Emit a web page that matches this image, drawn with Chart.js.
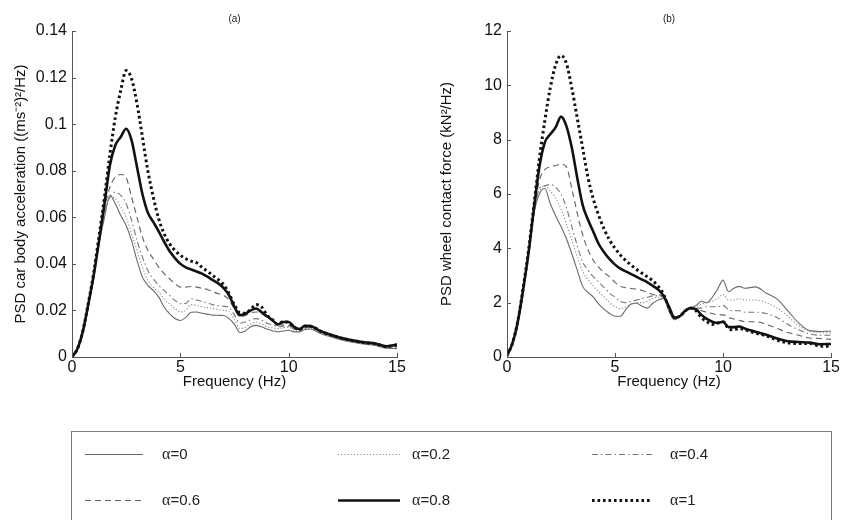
<!DOCTYPE html>
<html><head><meta charset="utf-8">
<script src="https://cdn.jsdelivr.net/npm/chart.js@4/dist/chart.umd.min.js"></script>
<style>
html,body{margin:0;padding:0;background:#fff;overflow:hidden;width:841px;height:520px;font-family:"Liberation Sans",Arial,sans-serif;}
#ca{position:absolute;left:0;top:0;}
#cb{position:absolute;left:420px;top:0;}
#leg{position:absolute;left:0;top:0;}
#legbox{position:absolute;left:71px;top:431px;width:761px;height:120px;border:1.5px solid #7a7a7a;box-sizing:border-box;}
.lt{position:absolute;font-size:15px;color:#222;transform:translateY(-50%);white-space:nowrap;}
.lt .g{font-family:"Liberation Serif","Times New Roman",serif;font-size:16px;}
</style></head><body>
<canvas id="ca" width="420" height="400"></canvas>
<canvas id="cb" width="421" height="400"></canvas>
<div id="legbox"></div>
<canvas id="leg" width="841" height="520"></canvas>
<div id="legtext"></div>
<script>
// ---------- data ----------
const freq = [0,0.25,0.5,0.75,1,1.25,1.5,1.75,2,2.25,2.5,2.75,3,3.25,3.5,3.75,4,4.25,4.5,4.75,5,5.25,5.5,5.75,6,6.25,6.5,6.75,7,7.25,7.5,7.75,8,8.25,8.5,8.75,9,9.25,9.5,9.75,10,10.25,10.5,10.75,11,11.5,12,12.5,13,13.5,14,14.5,15];
const alphaLabels = ['α=0','α=0.2','α=0.4','α=0.6','α=0.8','α=1'];
const xTicks = [0,5,10,15];
const accTicks = [0,0.02,0.04,0.06,0.08,0.1,0.12,0.14];
const forceTicks = [0,2,4,6,8,10,12];

// (a) PSD car body acceleration ((ms^-2)^2/Hz)
const accA0  = [0,0.0035,0.011,0.0225,0.035,0.049,0.060,0.0694,0.0658,0.0608,0.0565,0.050,0.0415,0.0343,0.0308,0.0286,0.0258,0.0215,0.0186,0.0165,0.0157,0.0170,0.0192,0.0193,0.0188,0.0184,0.0180,0.0179,0.0178,0.0165,0.0140,0.0105,0.0112,0.0130,0.0136,0.0130,0.0120,0.0113,0.0108,0.0112,0.0115,0.0108,0.0108,0.0118,0.0120,0.0100,0.0085,0.0072,0.0062,0.0055,0.0050,0.0038,0.0036];
const accA02 = [0,0.0035,0.011,0.0225,0.035,0.049,0.060,0.0690,0.068,0.0644,0.060,0.053,0.0458,0.0386,0.0329,0.030,0.0279,0.025,0.0229,0.0208,0.0193,0.020,0.0225,0.0222,0.0216,0.0212,0.0208,0.0204,0.0200,0.0195,0.0160,0.0122,0.0128,0.0142,0.0150,0.0142,0.0130,0.0125,0.0122,0.0125,0.0128,0.0115,0.0112,0.0122,0.0124,0.0104,0.0088,0.0074,0.0064,0.0057,0.0052,0.0040,0.0040];
const accA04 = [0,0.0035,0.011,0.0225,0.035,0.049,0.0615,0.0687,0.0708,0.0694,0.0658,0.0587,0.050,0.043,0.0372,0.0336,0.0308,0.0286,0.0265,0.0243,0.0229,0.0230,0.0250,0.0245,0.0238,0.0232,0.0225,0.0220,0.0218,0.0213,0.0180,0.0145,0.0150,0.0160,0.0165,0.0158,0.0145,0.0138,0.0130,0.0130,0.0130,0.0120,0.0115,0.0125,0.0127,0.0106,0.0090,0.0076,0.0066,0.0059,0.0054,0.0042,0.0043];
const accA06 = [0,0.0035,0.011,0.0225,0.035,0.0495,0.0637,0.073,0.0773,0.0784,0.077,0.0687,0.060,0.0515,0.0458,0.0422,0.0386,0.0358,0.0336,0.0315,0.030,0.0300,0.0303,0.0300,0.0295,0.0290,0.0280,0.0272,0.0265,0.0245,0.0205,0.0172,0.0178,0.0190,0.0193,0.0186,0.0170,0.0155,0.0140,0.0137,0.0136,0.0124,0.0118,0.0128,0.0130,0.0108,0.0092,0.0078,0.0068,0.0060,0.0055,0.0044,0.0047];
const accA08 = [0,0.0035,0.011,0.0225,0.035,0.050,0.0658,0.0823,0.0909,0.0945,0.098,0.093,0.0816,0.070,0.062,0.058,0.054,0.0495,0.0455,0.0425,0.040,0.0385,0.0376,0.0367,0.0358,0.0345,0.0330,0.0316,0.0296,0.0265,0.0215,0.0180,0.0186,0.0200,0.0208,0.0192,0.0175,0.0158,0.0140,0.0150,0.0150,0.0129,0.0120,0.0134,0.0133,0.0110,0.0094,0.0080,0.0071,0.0063,0.0058,0.0046,0.0053];
const accA1  = [0,0.0035,0.0112,0.023,0.036,0.052,0.0687,0.087,0.103,0.1145,0.123,0.1195,0.1088,0.0945,0.080,0.0687,0.0594,0.053,0.0487,0.0458,0.0437,0.0422,0.0412,0.0405,0.0385,0.0368,0.0350,0.0332,0.0310,0.0272,0.0222,0.0190,0.0188,0.0205,0.0225,0.0215,0.0180,0.0160,0.0140,0.0152,0.0148,0.0128,0.0118,0.0132,0.0132,0.0110,0.0093,0.0080,0.0070,0.0062,0.0057,0.0045,0.0052];

// (b) PSD wheel contact force (kN^2/Hz)
const forceA0  = [0.05,0.5,1.3,2.5,3.85,5.3,6.0,6.2,5.65,5.2,4.8,4.35,3.8,3.2,2.6,2.38,2.2,1.95,1.75,1.6,1.5,1.5,1.75,1.95,1.98,1.87,1.8,1.98,2.1,2.15,1.68,1.37,1.5,1.72,1.8,1.9,2.05,2.0,2.2,2.5,2.83,2.4,2.53,2.6,2.53,2.58,2.35,2.13,1.7,1.25,0.97,0.94,0.95];
const forceA02 = [0.05,0.5,1.3,2.5,3.85,5.3,6.1,6.3,6.1,5.85,5.45,4.9,4.3,3.7,3.15,2.85,2.6,2.4,2.2,2.0,1.85,1.78,1.85,1.95,2.0,2.0,2.05,2.15,2.2,2.2,1.7,1.38,1.5,1.7,1.8,1.85,1.95,2.0,2.05,2.15,2.3,2.1,2.1,2.15,2.1,2.1,2.0,1.8,1.5,1.15,0.95,0.9,0.88];
const forceA04 = [0.05,0.5,1.3,2.5,3.85,5.3,6.2,6.3,6.35,6.25,6.0,5.5,4.8,4.1,3.5,3.2,2.95,2.75,2.55,2.35,2.2,2.05,2.0,2.05,2.1,2.15,2.2,2.25,2.25,2.2,1.72,1.4,1.5,1.7,1.8,1.8,1.8,1.85,1.85,1.85,1.9,1.75,1.7,1.7,1.65,1.65,1.6,1.45,1.2,1.0,0.85,0.8,0.8];
const forceA06 = [0.05,0.5,1.3,2.5,3.85,5.35,6.5,6.9,7.0,7.05,7.1,7.0,6.2,5.3,4.5,3.95,3.55,3.3,3.1,2.95,2.75,2.6,2.55,2.52,2.5,2.45,2.38,2.3,2.28,2.25,1.75,1.42,1.5,1.72,1.82,1.75,1.7,1.65,1.6,1.55,1.55,1.45,1.4,1.35,1.3,1.3,1.2,1.05,0.9,0.8,0.7,0.68,0.65];
const forceA08 = [0.05,0.5,1.3,2.5,3.85,5.5,7.0,7.9,8.2,8.45,8.85,8.5,7.7,6.6,5.6,5.05,4.6,4.15,3.85,3.6,3.4,3.25,3.15,3.05,2.95,2.85,2.75,2.62,2.48,2.25,1.85,1.45,1.5,1.7,1.8,1.75,1.55,1.4,1.3,1.25,1.3,1.1,1.1,1.12,1.05,0.93,0.82,0.68,0.58,0.55,0.53,0.47,0.48];
const forceA1  = [0.05,0.5,1.32,2.55,3.95,5.6,7.3,8.7,9.9,10.75,11.1,10.8,9.9,8.8,7.7,6.6,5.8,5.2,4.7,4.3,4.0,3.75,3.55,3.38,3.22,3.08,2.95,2.8,2.6,2.3,1.8,1.45,1.5,1.7,1.8,1.7,1.45,1.3,1.2,1.25,1.3,1.05,1.0,1.05,1.0,0.88,0.78,0.62,0.52,0.5,0.5,0.4,0.4];

const accSeries = [accA0, accA02, accA04, accA06, accA08, accA1];
const forceSeries = [forceA0, forceA02, forceA04, forceA06, forceA08, forceA1];

// ---------- styles ----------
const lineStyles = [
  {color:'#6a6a6a', width:1.1, dash:[]},
  {color:'#888888', width:1.1, dash:[1.2,2]},
  {color:'#777777', width:1.1, dash:[6,3,1.5,3]},
  {color:'#626262', width:1.1, dash:[6,4]},
  {color:'#111111', width:2.6, dash:[]},
  {color:'#111111', width:3,   dash:[2.6,2.9]}
];

const FONT = '"Liberation Sans", Arial, sans-serif';

function makeDatasets(series){
  return series.map((vals,i)=>({
    label: alphaLabels[i],
    data: freq.map((f,k)=>({x:f, y:vals[k]})),
    borderColor: lineStyles[i].color,
    borderWidth: lineStyles[i].width,
    borderDash: lineStyles[i].dash,
    pointRadius: 0,
    fill: false,
    cubicInterpolationMode: 'monotone',
    order: 5 - i
  }));
}

const inwardTicks = {
  id:'inwardTicks',
  afterDatasetsDraw(chart){
    const {ctx, chartArea:a, scales:{x,y}} = chart;
    ctx.save(); ctx.strokeStyle='#555'; ctx.lineWidth=1; ctx.setLineDash([]);
    ctx.beginPath();
    x.ticks.forEach(t=>{const px=Math.round(x.getPixelForValue(t.value))+0.5; ctx.moveTo(px,a.bottom); ctx.lineTo(px,a.bottom-4);});
    y.ticks.forEach(t=>{const py=Math.round(y.getPixelForValue(t.value))+0.5; ctx.moveTo(a.left,py); ctx.lineTo(a.left+4,py);});
    ctx.stroke(); ctx.restore();
  }
};

function makeChart(id, series, title, yTitle, yMax, yTickArr, yWidth, padRight, yTitlePad, fmt){
  return new Chart(document.getElementById(id), {
    type:'line',
    data:{datasets: makeDatasets(series)},
    plugins:[inwardTicks],
    options:{
      responsive:false, animation:false, devicePixelRatio:1,
      layout:{padding:{left:0,right:padRight,top:0,bottom:0}},
      plugins:{
        legend:{display:false}, tooltip:{enabled:false},
        title:{display:true, text:title, fullSize:false, color:'#222',
               font:{family:FONT,size:10,weight:'normal',lineHeight:1.2}, padding:{top:13,bottom:6}}
      },
      scales:{
        x:{type:'linear', min:0, max:15,
           afterBuildTicks:s=>{s.ticks = xTicks.map(v=>({value:v}));},
           afterFit:s=>{s.height = 43;},
           grid:{display:false, drawTicks:false},
           border:{display:true, color:'#555', width:1},
           ticks:{color:'#111', padding:1, font:{family:FONT,size:16}, callback:v=>String(v)},
           title:{display:true, text:'Frequency (Hz)', color:'#111', font:{family:FONT,size:15,lineHeight:1.2}, padding:{top:0,bottom:9}}
        },
        y:{type:'linear', min:0, max:yMax,
           afterBuildTicks:s=>{s.ticks = yTickArr.map(v=>({value:v}));},
           afterFit:s=>{s.width = yWidth;},
           grid:{display:false, drawTicks:false},
           border:{display:true, color:'#555', width:1},
           ticks:{color:'#111', padding:5, font:{family:FONT,size:16}, callback:fmt},
           title:{display:true, text:yTitle, color:'#111', font:{family:FONT,size:15,lineHeight:1.2}, padding:{top:yTitlePad,bottom:0}}
        }
      }
    }
  });
}

makeChart('ca', accSeries, '(a)', 'PSD car body acceleration ((ms\u207B\u00B2)\u00B2/Hz)', 0.14, accTicks, 72, 23, 12, v=>String(+(+v).toFixed(2)));
makeChart('cb', forceSeries, '(b)', 'PSD wheel contact force (kN\u00B2/Hz)', 12, forceTicks, 87, 8, 18, v=>String(v));

// ---------- legend ----------
const legCols = [[85,143,162],[338,400,412],[592,652,670]];
const legRows = [454,500];
const lctx = document.getElementById('leg').getContext('2d');
const lt = document.getElementById('legtext');
alphaLabels.forEach((lab,i)=>{
  const r = Math.floor(i/3), c = i%3;
  const [x0,x1,tx] = legCols[c]; const y = legRows[r];
  const st = lineStyles[i];
  lctx.save(); lctx.strokeStyle = st.color; lctx.lineWidth = st.width; lctx.setLineDash(st.dash);
  lctx.beginPath(); lctx.moveTo(x0, y+0.5); lctx.lineTo(x1, y+0.5); lctx.stroke(); lctx.restore();
  const d = document.createElement('div'); d.className='lt';
  d.style.left = tx+'px'; d.style.top = y+'px';
  d.innerHTML = '<span class="g">\u03B1</span>' + lab.slice(1);
  lt.appendChild(d);
});
</script>
</body></html>
